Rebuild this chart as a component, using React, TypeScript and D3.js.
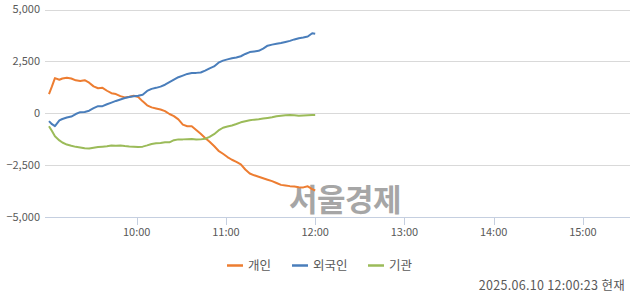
import React from "react";
import * as d3 from "d3";

const minutes = [1,3,5,8,10,13,16,19,22,25,28,31,34,37,40,43,46,49,52,55,58,61,64,67,70,73,76,79,82,85,88,91,94,97,100,103,106,109,112,115,118,121,124,127,130,133,136,139,142,145,148,151,154,157,160,163,166,169,172,175,178,180];

const individual = [933,1300,1700,1620,1680,1720,1680,1590,1560,1600,1480,1300,1210,1230,1090,970,930,830,770,800,850,790,580,390,290,240,190,110,-30,-130,-290,-540,-620,-620,-800,-980,-1180,-1360,-1570,-1800,-1940,-2100,-2230,-2330,-2450,-2700,-2890,-2980,-3050,-3120,-3190,-3260,-3350,-3440,-3470,-3500,-3520,-3550,-3560,-3510,-3640,-3710];

const foreign = [-372,-520,-614,-340,-270,-200,-150,-30,60,70,130,250,350,350,440,520,600,670,740,790,820,850,900,1080,1180,1230,1290,1380,1500,1620,1740,1820,1900,1940,1950,1970,2060,2170,2260,2440,2540,2600,2650,2690,2750,2860,2950,2980,3010,3120,3260,3310,3350,3390,3440,3490,3560,3620,3650,3700,3860,3835];

const institution = [-620,-850,-1100,-1300,-1400,-1500,-1560,-1610,-1640,-1680,-1690,-1650,-1620,-1600,-1580,-1540,-1560,-1540,-1570,-1590,-1600,-1620,-1600,-1540,-1470,-1440,-1420,-1390,-1390,-1290,-1250,-1250,-1240,-1230,-1260,-1250,-1220,-1130,-1000,-820,-690,-630,-580,-510,-430,-380,-330,-300,-280,-250,-220,-190,-140,-110,-90,-80,-90,-110,-100,-90,-80,-80];

const yTicks = [5000, 2500, 0, -2500, -5000];
const xTickHours = [10, 11, 12, 13, 14, 15];
const seriesNames = ["개인", "외국인", "기관"];
const seriesColors = ["#ED7D31", "#4A7EBB", "#9BBB59"];
const timestamp = "2025.06.10 12:00:23 현재";
const watermark = "서울경제";

const t = (h: number, m: number) => new Date(2025, 5, 10, h, m, 0);

export default function App() {
  const x = d3.scaleTime().domain([t(9, 0), t(15, 30)]).range([47.5, 627.5]);
  const y = d3.scaleLinear().domain([-5000, 5000]).range([217.3, 9.5]);
  const times = minutes.map((m) => t(9, m));
  const series = [individual, foreign, institution];
  const line = d3
    .line<[Date, number]>()
    .x((d) => x(d[0]))
    .y((d) => y(d[1]));
  const fmt = d3.format(",");
  const font = "'Noto Sans CJK KR', 'Noto Sans', sans-serif";
  const legendX = [227, 292, 368];

  return (
    <svg
      width={640}
      height={294}
      style={{ position: "absolute", left: 0, top: 0, background: "#fff" }}
      fontFamily={font}
    >
      {yTicks.map((v) => (
        <g key={v}>
          {v !== -5000 && (
            <line x1={45} x2={630} y1={Math.round(y(v)) + 0.5} y2={Math.round(y(v)) + 0.5} stroke="#d9d9d9" strokeWidth={1} />
          )}
          <text x={40} y={y(v)} dy="0.35em" textAnchor="end" fontSize={11} fill="#595959">
            {fmt(v)}
          </text>
        </g>
      ))}
      <line x1={45} x2={630} y1={217.5} y2={217.5} stroke="#c5cfe0" strokeWidth={1} />
      {xTickHours.map((h) => (
        <g key={h}>
          <line x1={Math.round(x(t(h, 0))) + 0.5} x2={Math.round(x(t(h, 0))) + 0.5} y1={217.5} y2={225} stroke="#c5cfe0" strokeWidth={1} />
          <text x={x(t(h, 0))} y={236} textAnchor="middle" fontSize={11} fill="#595959">
            {d3.timeFormat("%H:%M")(t(h, 0))}
          </text>
        </g>
      ))}
      <text x={345} y={211} textAnchor="middle" fontSize={31} fontWeight="bold" fill="#a6a6a6" letterSpacing={-0.5}>
        {watermark}
      </text>
      {series.map((s, i) => (
        <path
          key={i}
          d={line(times.map((d, j) => [d, s[j]]) as [Date, number][]) || ""}
          fill="none"
          stroke={seriesColors[i]}
          strokeWidth={2}
          strokeLinejoin="round"
        />
      ))}
      {seriesNames.map((n, i) => (
        <g key={n}>
          <line x1={legendX[i]} x2={legendX[i] + 16} y1={265.5} y2={265.5} stroke={seriesColors[i]} strokeWidth={2.5} />
          <text x={legendX[i] + 21} y={266} dy="0.35em" fontSize={12.5} fill="#595959">
            {n}
          </text>
        </g>
      ))}
      <text x={625} y={286} dy="0.35em" textAnchor="end" fontSize={12.5} fill="#595959" letterSpacing={0.3}>
        {timestamp}
      </text>
    </svg>
  );
}
